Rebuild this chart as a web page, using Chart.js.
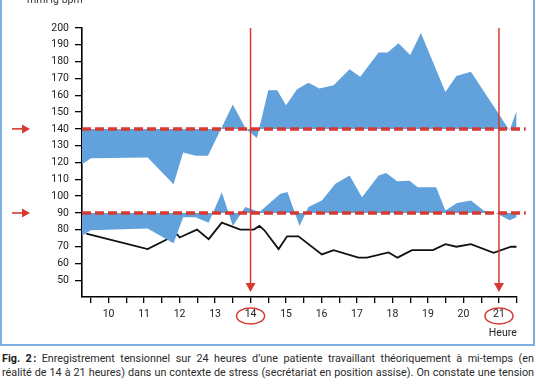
<!DOCTYPE html>
<html><head><meta charset="utf-8">
<script src="https://cdn.jsdelivr.net/npm/chart.js@4/dist/chart.umd.min.js"></script>
<style>
html,body{margin:0;padding:0;background:#fff;}
body{width:536px;height:386px;overflow:hidden;position:relative;font-family:Roboto,"Liberation Sans",sans-serif;}
#frame{position:absolute;left:0;top:-5px;width:531px;height:349px;border-left:2px solid #7eaedd;border-right:2px solid #7eaedd;border-bottom:2px solid #7eaedd;}
#wrap{position:absolute;left:0;top:0;width:536px;height:340px;}
.cap{position:absolute;left:2px;width:532px;font-size:10.8px;line-height:14px;color:#2a2a2a;text-align:justify;text-align-last:justify;}
.cap b{color:#1a1a1a;}
</style></head>
<body>
<div id="frame"></div>
<div id="wrap"><canvas id="c" width="536" height="340"></canvas></div>
<div class="cap" style="top:352px"><b>Fig. 2&#8239;:</b> Enregistrement tensionnel sur 24 heures d’une patiente travaillant théoriquement à mi-temps (en</div>
<div class="cap" style="top:366px">réalité de 14 à 21 heures) dans un contexte de stress (secrétariat en position assise). On constate une tension</div>
<script>
// ---- data ----
const sysHours = [9.25, 9.5, 11.1, 11.83, 12.1, 12.45, 12.8, 13.5, 13.87, 14.18, 14.5, 14.75, 15.0, 15.31, 15.63, 15.94, 16.34, 16.79, 17.09, 17.61, 17.86, 18.17, 18.5, 18.8, 19.49, 19.8, 20.21, 21.3, 21.5];
const sysValues = [119, 122.5, 123, 107, 126, 124, 124, 154.5, 140, 134.5, 163, 163, 154, 163.5, 167.5, 164, 166, 175.5, 171, 185.5, 185.5, 191, 184, 197, 162, 171.5, 174, 139, 151];
const diaHours = [9.25, 9.5, 11.1, 11.83, 12.1, 12.45, 12.82, 13.19, 13.5, 13.85, 14.25, 14.84, 15.04, 15.38, 15.63, 16.01, 16.39, 16.79, 17.14, 17.61, 17.82, 18.13, 18.48, 18.71, 19.23, 19.49, 19.82, 20.21, 20.57, 20.94, 21.3, 21.5];
const diaValues = [76.5, 79.7, 80.7, 72, 87.5, 87.5, 84.2, 102.3, 82.3, 93.5, 90.6, 101.4, 102.4, 82.3, 93.5, 97.4, 107.3, 112.2, 99.4, 112.2, 113.8, 108.9, 109.2, 105.3, 105.3, 91.5, 95.9, 97.4, 91.5, 89.6, 85.6, 87.5];
const hrHours = [9.37, 11.1, 11.93, 12.0, 12.49, 12.82, 13.19, 13.71, 14.09, 14.25, 14.39, 14.79, 15.03, 15.35, 16.01, 16.34, 17.04, 17.28, 17.89, 18.14, 18.55, 19.14, 19.49, 19.8, 20.21, 20.85, 21.34, 21.5];
const hrValues = [77.7, 68.5, 77.3, 75.4, 80.1, 74.4, 84.2, 80.1, 80.1, 82.3, 79.7, 68.5, 76.1, 76.1, 65.3, 67.9, 63.4, 63.4, 66.5, 63.4, 67.9, 67.9, 71.4, 69.9, 71.4, 66.3, 69.9, 69.9];
const thresholds = [140, 90];
const markerHours = [14, 21];
const xTickValues = [9.5,10,10.5,11,11.5,12,12.5,13,13.5,14,14.5,15,15.5,16,16.5,17,17.5,18,18.5,19,19.5,20,20.5,21,21.5];
const xTickLabels = ['10','11','12','13','14','15','16','17','18','19','20','21'];
const yTickValues = [50,60,70,80,90,100,110,120,130,140,150,160,170,180,190,200];
const unitLabel = 'mmHg-bpm';
const xTitle = 'Heure';

const BLUE = '#62a2dc';
const RED = '#d63a32';
const FONT = 'Roboto, "Liberation Sans", sans-serif';

const pts = (xs, ys) => xs.map((x, i) => ({x, y: ys[i]}));

const deco = {
  id: 'deco',
  afterDatasetsDraw(chart) {
    const {ctx, chartArea: a, scales: {x, y}} = chart;
    ctx.save();
    ctx.strokeStyle = RED; ctx.lineWidth = 3.5; ctx.setLineDash([9, 4]);
    thresholds.forEach(t => {
      const py = y.getPixelForValue(t);
      ctx.beginPath(); ctx.moveTo(a.left, py); ctx.lineTo(a.right + 9, py); ctx.stroke();
    });
    ctx.setLineDash([]);
    ctx.lineWidth = 1.6; ctx.fillStyle = RED;
    thresholds.forEach(t => {
      const py = y.getPixelForValue(t);
      ctx.beginPath(); ctx.moveTo(12, py); ctx.lineTo(24, py); ctx.stroke();
      ctx.beginPath(); ctx.moveTo(30, py); ctx.lineTo(22, py - 4.5); ctx.lineTo(22, py + 4.5); ctx.closePath(); ctx.fill();
    });
    ctx.lineWidth = 1.5;
    markerHours.forEach(h => {
      const px = x.getPixelForValue(h);
      const top = y.getPixelForValue(200);
      const tip = a.bottom - 5;
      ctx.beginPath(); ctx.moveTo(px, top); ctx.lineTo(px, tip - 6); ctx.stroke();
      ctx.beginPath(); ctx.moveTo(px, tip); ctx.lineTo(px - 5, tip - 9); ctx.lineTo(px + 5, tip - 9); ctx.closePath(); ctx.fill();
      ctx.beginPath(); ctx.ellipse(px, a.bottom + 19, 14, 8, 0, 0, Math.PI * 2); ctx.stroke();
    });
    ctx.fillStyle = '#333'; ctx.font = '10.5px ' + FONT; ctx.textBaseline = 'alphabetic'; ctx.textAlign = 'left';
    ctx.fillText(unitLabel, 27, 2.5);
    ctx.restore();
  }
};

new Chart(document.getElementById('c'), {
  type: 'line',
  data: {
    datasets: [
      {data: pts(sysHours, sysValues), fill: {value: thresholds[0]}, backgroundColor: BLUE, borderWidth: 0, borderColor: BLUE, pointRadius: 0, tension: 0},
      {data: pts(diaHours, diaValues), fill: {value: thresholds[1]}, backgroundColor: BLUE, borderWidth: 0, borderColor: BLUE, pointRadius: 0, tension: 0},
      {data: pts(hrHours, hrValues), fill: false, borderColor: '#111', borderWidth: 1.8, pointRadius: 0, tension: 0}
    ]
  },
  options: {
    responsive: false, animation: false, devicePixelRatio: 1,
    layout: {padding: {top: 28, right: 19.3, left: 0, bottom: 0}},
    plugins: {legend: {display: false}, tooltip: {enabled: false}},
    scales: {
      x: {
        type: 'linear', min: 9.25, max: 21.5,
        afterBuildTicks: s => { s.ticks = xTickValues.map(v => ({value: v})); },
        afterFit: s => { s.height = 43; },
        ticks: {autoSkip: false, maxRotation: 0, padding: 5, color: '#222', font: {family: FONT, size: 10.5},
          callback: v => xTickLabels.includes(String(v)) ? String(v) : ''},
        grid: {drawOnChartArea: false, drawTicks: true, tickLength: 6, color: '#000', lineWidth: 1.3},
        border: {display: true, color: '#000', width: 1.6},
        title: {display: true, text: xTitle, align: 'end', color: '#222', font: {family: FONT, size: 10.5}, padding: {top: 0, bottom: 0}}
      },
      y: {
        min: 40, max: 200,
        afterBuildTicks: s => { s.ticks = yTickValues.map(v => ({value: v})); },
        afterFit: s => { s.width = 82; },
        ticks: {padding: 6, color: '#222', font: {family: FONT, size: 10.5}},
        grid: {drawOnChartArea: false, drawTicks: true, tickLength: 7, color: '#000', lineWidth: 1.3},
        border: {display: true, color: '#000', width: 1.6}
      }
    }
  },
  plugins: [deco]
});
</script>
</body></html>
